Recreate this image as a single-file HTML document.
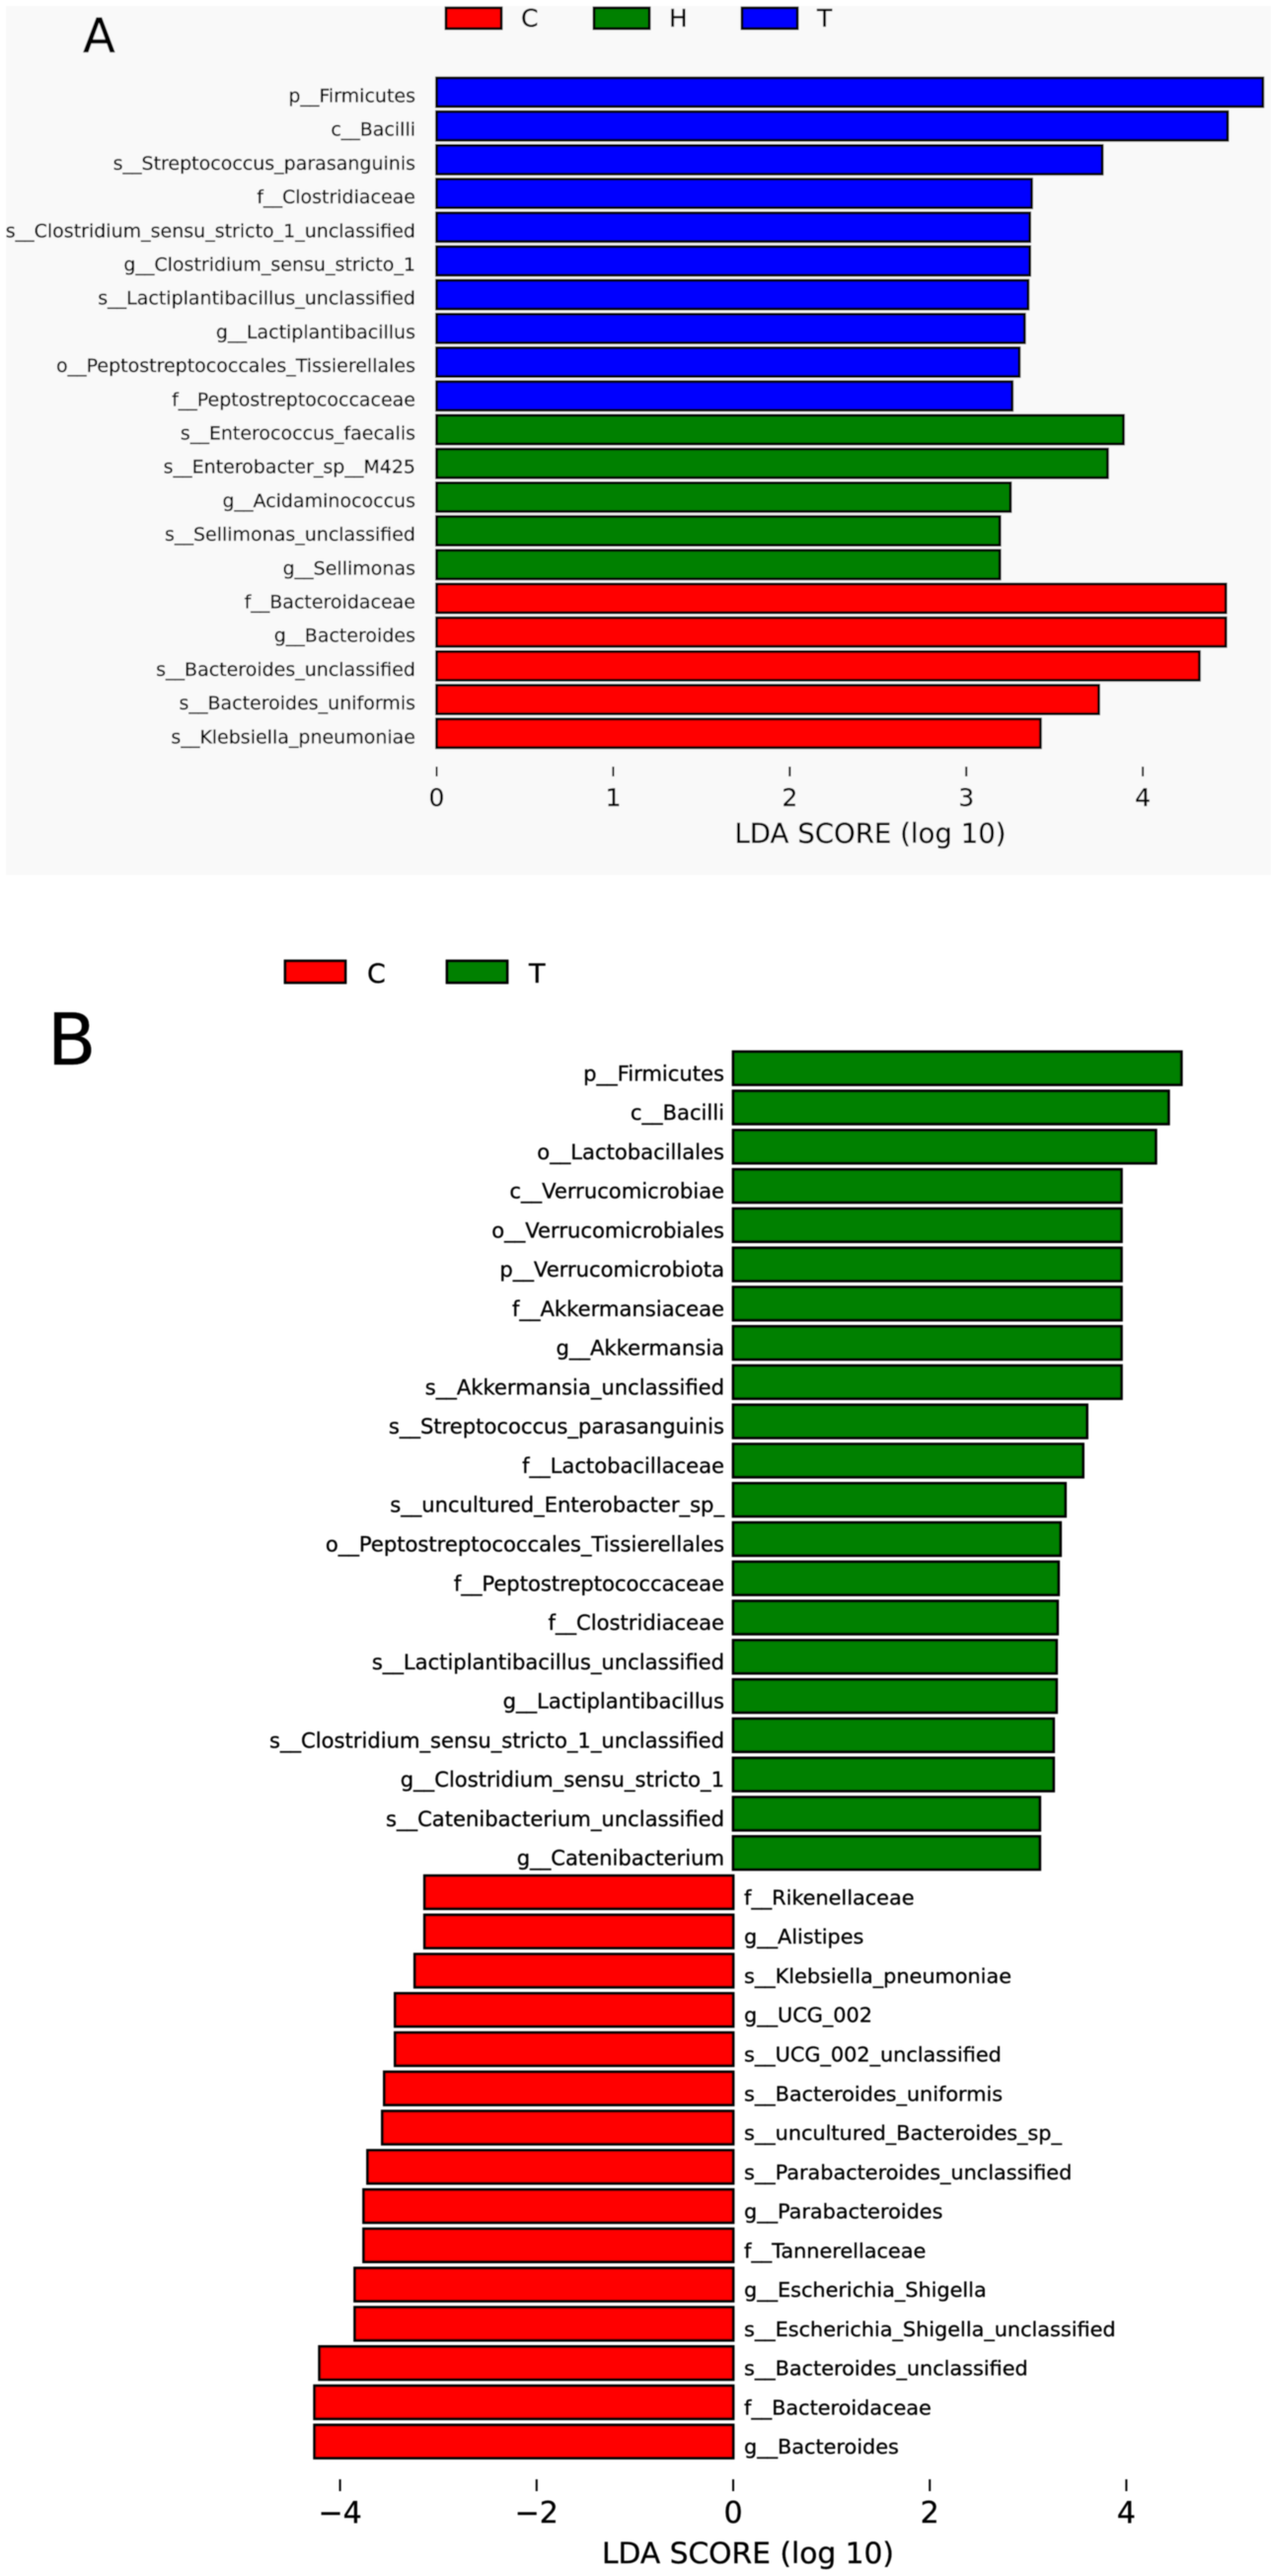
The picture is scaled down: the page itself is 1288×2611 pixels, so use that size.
<!DOCTYPE html>
<html lang="en">
<head>
<meta charset="utf-8">
<title>LDA score charts</title>
<style>
html,body{margin:0;padding:0;background:#fff;}
svg{display:block;}
text{font-family:"DejaVu Sans","Liberation Sans",sans-serif;fill:#000;stroke:#000;stroke-width:0.3px;}
</style>
</head>
<body>
<svg id="fig" width="1288" height="2611" viewBox="0 0 1288 2611" xmlns="http://www.w3.org/2000/svg">
  <defs><filter id="soft" x="-2%" y="-2%" width="104%" height="104%"><feGaussianBlur stdDeviation="0.55"/></filter></defs>
  <g id="root" filter="url(#soft)">
    <rect x="6" y="6" width="1282" height="881" fill="#f9f9f9"/>
    <text x="84" y="53" font-size="48">A</text>
    <text x="48" y="1079" font-size="72">B</text>
    <g id="chartA"></g>
    <g id="chartB"></g>
  </g>
</svg>
<script>
const colorsA = { C: '#ff0000', H: '#008000', T: '#0000ff' };
const colorsB = { C: '#ff0000', T: '#008000' };

const labelsA = ['p__Firmicutes','c__Bacilli','s__Streptococcus_parasanguinis','f__Clostridiaceae','s__Clostridium_sensu_stricto_1_unclassified','g__Clostridium_sensu_stricto_1','s__Lactiplantibacillus_unclassified','g__Lactiplantibacillus','o__Peptostreptococcales_Tissierellales','f__Peptostreptococcaceae','s__Enterococcus_faecalis','s__Enterobacter_sp__M425','g__Acidaminococcus','s__Sellimonas_unclassified','g__Sellimonas','f__Bacteroidaceae','g__Bacteroides','s__Bacteroides_unclassified','s__Bacteroides_uniformis','s__Klebsiella_pneumoniae'];
const valuesA = [4.68,4.48,3.77,3.37,3.36,3.36,3.35,3.33,3.30,3.26,3.89,3.80,3.25,3.19,3.19,4.47,4.47,4.32,3.75,3.42];
const groupsA = ['T','T','T','T','T','T','T','T','T','T','H','H','H','H','H','C','C','C','C','C'];
const ticksA = [0,1,2,3,4];

const labelsB = ['p__Firmicutes','c__Bacilli','o__Lactobacillales','c__Verrucomicrobiae','o__Verrucomicrobiales','p__Verrucomicrobiota','f__Akkermansiaceae','g__Akkermansia','s__Akkermansia_unclassified','s__Streptococcus_parasanguinis','f__Lactobacillaceae','s__uncultured_Enterobacter_sp_','o__Peptostreptococcales_Tissierellales','f__Peptostreptococcaceae','f__Clostridiaceae','s__Lactiplantibacillus_unclassified','g__Lactiplantibacillus','s__Clostridium_sensu_stricto_1_unclassified','g__Clostridium_sensu_stricto_1','s__Catenibacterium_unclassified','g__Catenibacterium','f__Rikenellaceae','g__Alistipes','s__Klebsiella_pneumoniae','g__UCG_002','s__UCG_002_unclassified','s__Bacteroides_uniformis','s__uncultured_Bacteroides_sp_','s__Parabacteroides_unclassified','g__Parabacteroides','f__Tannerellaceae','g__Escherichia_Shigella','s__Escherichia_Shigella_unclassified','s__Bacteroides_unclassified','f__Bacteroidaceae','g__Bacteroides'];
const valuesB = [4.56,4.43,4.30,3.95,3.95,3.95,3.95,3.95,3.95,3.60,3.56,3.38,3.33,3.31,3.30,3.29,3.29,3.26,3.26,3.12,3.12,-3.14,-3.14,-3.24,-3.44,-3.44,-3.55,-3.57,-3.72,-3.76,-3.76,-3.85,-3.85,-4.21,-4.26,-4.26];
const groupsB = ['T','T','T','T','T','T','T','T','T','T','T','T','T','T','T','T','T','T','T','T','T','C','C','C','C','C','C','C','C','C','C','C','C','C','C','C'];
const ticksB = [-4,-2,0,2,4];

const legendA = ['C','H','T'];
const legendB = ['C','T'];

const NS = 'http://www.w3.org/2000/svg';

function make(parent, tag, attrs, content) {
  const el = document.createElementNS(NS, tag);
  for (const k in attrs) el.setAttribute(k, attrs[k]);
  if (content !== undefined) el.textContent = content;
  parent.appendChild(el);
  return el;
}

function drawChart(host, cfg) {
  const xScale = v => cfg.zero + v * cfg.unit;
  const yScale = i => cfg.top + i * cfg.pitch;

  cfg.values.forEach((v, i) => {
    const x0 = xScale(0), x1 = xScale(v);
    const bar = make(host, 'rect', {
      x: Math.min(x0, x1), y: yScale(i),
      width: Math.abs(x1 - x0), height: cfg.barH,
      fill: cfg.palette[cfg.groups[i]], stroke: '#000', 'stroke-width': 2.8
    });
    
    

    const neg = v < 0;
    const label = make(host, 'text', {
      x: neg ? cfg.negLabelX : cfg.posLabelX,
      y: yScale(i) + cfg.barH / 2 + cfg.labelDy,
      'font-size': neg ? cfg.negLabelSize : cfg.labelSize,
      'text-anchor': neg ? 'start' : 'end'
    }, cfg.labels[i]);
    
    
  });

  cfg.ticks.forEach(t => {
    const tick = make(host, 'line', {
      x1: xScale(t), x2: xScale(t), y1: cfg.tickY1, y2: cfg.tickY2,
      stroke: '#000', 'stroke-width': 2
    });
    
    

    const tl = make(host, 'text', {
      x: xScale(t), y: cfg.tickLabelY, 'font-size': cfg.tickSize, 'text-anchor': 'middle'
    }, t < 0 ? '\u2212' + Math.abs(t) : String(t));
    
    
  });

  const title = make(host, 'text', {
    x: cfg.titleX, y: cfg.titleY, 'font-size': cfg.titleSize, 'text-anchor': 'middle'
  }, 'LDA SCORE (log 10)');
  
  

  cfg.legend.forEach((g, i) => {
    const lx = cfg.legX + i * cfg.legStep;
    const sw = make(host, 'rect', {
      x: lx, y: cfg.legY, width: cfg.legW, height: cfg.legH,
      fill: cfg.palette[g], stroke: '#000', 'stroke-width': 2.8
    });
    
    

    const lt = make(host, 'text', {
      x: lx + cfg.legW + cfg.legGap, y: cfg.legTextY, 'font-size': cfg.legSize
    }, g);
    
    
  });
}

drawChart(document.getElementById('chartA'), {
  labels: labelsA, values: valuesA, groups: groupsA, ticks: ticksA, legend: legendA, palette: colorsA,
  zero: 442.5, unit: 178.9, top: 79, pitch: 34.2, barH: 29,
  posLabelX: 421, negLabelX: 0, labelSize: 19, negLabelSize: 19, labelDy: 10,
  tickY1: 777, tickY2: 787, tickLabelY: 817, tickSize: 25,
  titleX: 882, titleY: 854, titleSize: 27.6,
  legX: 452, legY: 8, legW: 56, legH: 21, legStep: 150, legGap: 20, legTextY: 27, legSize: 25
});

drawChart(document.getElementById('chartB'), {
  labels: labelsB, values: valuesB, groups: groupsB, ticks: ticksB, legend: legendB, palette: colorsB,
  zero: 743, unit: 99.6, top: 1066, pitch: 39.77, barH: 33.5,
  posLabelX: 734, negLabelX: 754, labelSize: 21.1, negLabelSize: 20.8, labelDy: 12.5,
  tickY1: 2513, tickY2: 2525, tickLabelY: 2557, tickSize: 30,
  titleX: 758, titleY: 2598, titleSize: 29.7,
  legX: 289, legY: 974, legW: 61, legH: 22, legStep: 164, legGap: 22, legTextY: 996, legSize: 27
});
</script>
</body>
</html>
